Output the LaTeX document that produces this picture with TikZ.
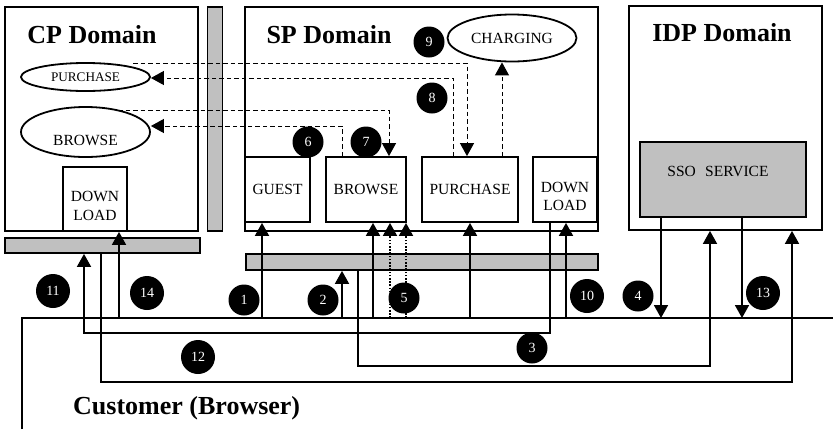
\documentclass[tikz,border=0pt]{standalone}
\usepackage{fontspec}
\setmainfont{Liberation Serif}
\usetikzlibrary{arrows.meta,shapes.geometric}
\definecolor{bargray}{HTML}{C0C0C0}
\begin{document}
\begin{tikzpicture}[x=1pt,y=-1pt,
  box/.style={draw,line width=1.8pt,inner sep=0pt,align=center,font=\fontsize{15.5}{17}\selectfont},
  txt/.style={inner sep=0pt,align=center,font=\fontsize{15.5}{18.5}\selectfont},
  gbar/.style={draw,fill=bargray,line width=1.8pt,inner sep=0pt},
  ell/.style={ellipse,draw,line width=1.8pt,inner sep=0pt,font=\fontsize{15.5}{17}\selectfont},
  num/.style={circle,fill=black,text=white,inner sep=0pt,minimum size=31pt,font=\fontsize{14}{14}\selectfont},
  numw/.style={num,minimum size=34pt},
  title/.style={inner sep=0pt,font=\fontsize{26}{30}\selectfont\bfseries},
  conn/.style={line width=1.8pt},
  arr/.style={conn,-{Triangle[length=13pt,width=14pt]}},
  dotarr/.style={line width=1.8pt,dash pattern=on 1.6pt off 1.6pt,-{Triangle[length=13pt,width=14pt]}},
  darr/.style={line width=1pt,dash pattern=on 4.5pt off 3pt,-{Triangle[length=13pt,width=14pt]}}
]
\useasboundingbox (0,0) rectangle (833,429);

% ---------- CP domain ----------
\node[box,minimum width=193pt,minimum height=224pt] (cp) at (101.5,119) {};
\node[title] (cptitle) at (92,35) {CP Domain};
\node[ell,minimum width=129pt,minimum height=28pt,font=\fontsize{13.2}{15}\selectfont] (cppur) at (85.5,77) {PURCHASE};
\node[ell,minimum width=129pt,minimum height=50pt] (cpbr) at (85.5,132) {};
\node[txt] (cpbrt) at (85.5,140) {BROWSE};
\node[box,minimum width=64pt,minimum height=64pt] (cpdl) at (95,199) {};
\node[txt] (cpdlt) at (95,206) {DOWN\\LOAD};
\node[gbar,minimum width=15pt,minimum height=224pt] (vbar) at (215,119) {};
\node[gbar,minimum width=195pt,minimum height=15pt] (cpbar) at (102.5,245.5) {};

% ---------- SP domain ----------
\node[box,minimum width=353pt,minimum height=224pt] (sp) at (421.5,119) {};
\node[title] (sptitle) at (329,35) {SP Domain};
\node[ell,minimum width=129pt,minimum height=47pt] (charging) at (512,38) {CHARGING};
\node[box,minimum width=65pt,minimum height=65pt] (guest) at (277.5,189.5) {GUEST};
\node[box,minimum width=80pt,minimum height=65pt] (spbrowse) at (366,189.5) {BROWSE};
\node[box,minimum width=96pt,minimum height=65pt] (sppur) at (470,189.5) {PURCHASE};
\node[box,minimum width=64pt,minimum height=65pt] (spdl) at (565,189.5) {};
\node[txt] (spdlt) at (565,196.5) {DOWN\\LOAD};
\node[gbar,minimum width=352pt,minimum height=16pt] (spbar) at (422,262) {};

% ---------- IDP domain ----------
\node[box,minimum width=193pt,minimum height=224pt] (idp) at (725.5,118) {};
\node[title] (idptitle) at (722,33) {IDP Domain};
\node[gbar,minimum width=166pt,minimum height=75pt] (sso) at (723,179.5) {};
\node[txt] (ssot) at (718,171) {SSO\hspace{0.6em}SERVICE};

% ---------- Customer ----------
\coordinate (cA) at (22,429);
\coordinate (cB) at (22,318);
\coordinate (cC) at (833,318);
\draw[conn] (cA) -- (cB) -- (cC);
\node[title,anchor=west] (cust) at (73,408) {Customer (Browser)};

% points on the customer line
\coordinate (k14) at (119,318);
\coordinate (k1) at (262,318);
\coordinate (k2) at (342,318);
\coordinate (kb1) at (373,318);
\coordinate (kb2) at (390,318);
\coordinate (kb3) at (406,318);
\coordinate (kp) at (470,318);
\coordinate (k10) at (566,318);
\coordinate (k4) at (661,318);
\coordinate (k13) at (742,318);

% ---------- solid connectors ----------
\draw[arr] (k1) -- (k1 |- guest.south);
\draw[arr] (k2) -- (k2 |- spbar.south);
\draw[arr] (kb1) -- (kb1 |- spbrowse.south);
\draw[dotarr] (kb2) -- (kb2 |- spbrowse.south);
\draw[dotarr] (kb3) -- (kb3 |- spbrowse.south);
\draw[arr] (kp) -- (kp |- sppur.south);
\draw[arr] (k10) -- (k10 |- spdl.south);
\draw[arr] (k14) -- (k14 |- cpdl.south);
\draw[arr] (sso.south -| k4) -- (k4);
\draw[arr] (sso.south -| k13) -- (k13);

\coordinate (y3) at (358,366);
\coordinate (z3) at (710,366);
\draw[arr] (spbar.south -| y3) -- (y3) -- (z3) -- (z3 |- idp.south);

\coordinate (y11) at (550,333);
\coordinate (z11) at (84,333);
\draw[arr] (spdl.south -| y11) -- (y11) -- (z11) -- (z11 |- cpbar.south);

\coordinate (y12) at (101,382);
\coordinate (z12) at (792,382);
\draw[arr] (cpbar.south -| y12) -- (y12) -- (z12) -- (z12 |- idp.south);

% ---------- dashed connectors ----------
\coordinate (d1s) at (133,63);
\coordinate (d1c) at (467,63);
\draw[darr] (d1s) -- (d1c) -- (d1c |- sppur.north);
\coordinate (d2c) at (453,78);
\draw[darr] (sppur.north -| d2c) -- (d2c) -- (cppur.east |- d2c);
\coordinate (d3s) at (118,110);
\coordinate (d3c) at (389,110);
\draw[darr] (d3s) -- (d3c) -- (d3c |- spbrowse.north);
\coordinate (d4c) at (342,126);
\draw[darr] (spbrowse.north -| d4c) -- (d4c) -- (cpbr.east |- d4c);
\coordinate (d9) at (502,100);
\draw[darr] (sppur.north -| d9) -- (charging.south -| d9);

% ---------- step numbers ----------
\node[num] (n1) at (244,300) {1};
\node[num] (n2) at (323,300) {2};
\node[num] (n3) at (532,348) {3};
\node[num] (n4) at (638,296) {4};
\node[num] (n5) at (404,298) {5};
\node[num] (n6) at (308,142) {6};
\node[num] (n7) at (366,142) {7};
\node[num] (n8) at (432,98) {8};
\node[num] (n9) at (429,42) {9};
\node[numw] (n10) at (587,296) {10};
\node[numw] (n11) at (53,291) {11};
\node[numw] (n12) at (198,357) {12};
\node[numw] (n13) at (763,293) {13};
\node[numw] (n14) at (147,293) {14};
\end{tikzpicture}
\end{document}
